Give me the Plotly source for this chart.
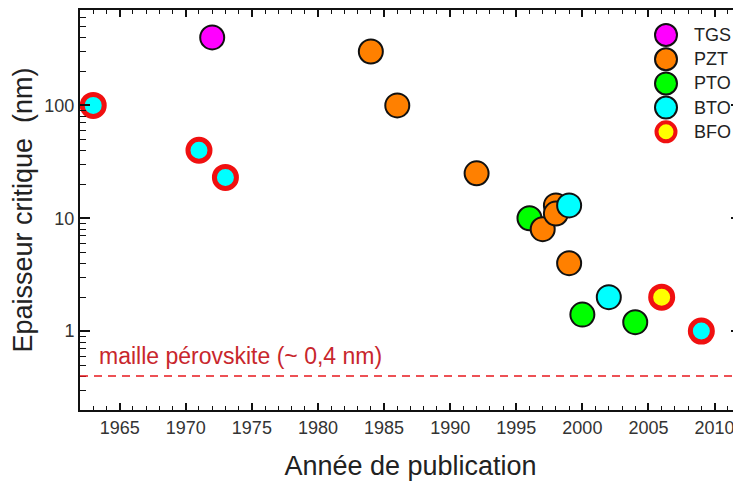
import plotly.graph_objects as go
import math

# ---- data ----
tgs_x = [1972]
tgs_y = [400]
pto_x = [1996, 2000, 2004]
pto_y = [10, 1.4, 1.2]
pzt_x = [1984, 1986, 1992, 1998, 1997, 1998, 1999]
pzt_y = [300, 100, 25, 13, 8, 11, 4]
bto_x = [1999, 2002]
bto_y = [13, 2]
bfo_x = [2006]
bfo_y = [2]
ring_x = [1963, 1971, 1973, 2009]
ring_y = [100, 40, 23, 1]

legend_names = ["TGS", "PZT", "PTO", "BTO", "BFO"]
legend_fill = ["#ff00ff", "#ff8000", "#00ff00", "#00ffff", "#ffff00"]
legend_line = ["#111111", "#111111", "#111111", "#111111", "#f01010"]
legend_lw = [2, 2, 2, 2, 4]

xticks = [1965, 1970, 1975, 1980, 1985, 1990, 1995, 2000, 2005, 2010]
yticks = [1, 10, 100]
yticktext = ["1", "10", "100"]
perov = 0.4

FONT = "Arial, Liberation Sans, sans-serif"

fig = go.Figure()

def add(x, y, fill, line, lw, size, name):
    fig.add_trace(go.Scatter(
        x=x, y=y, mode="markers", name=name, showlegend=False,
        marker=dict(size=size, color=fill, line=dict(color=line, width=lw)),
        hoverinfo="x+y"))

add(tgs_x, tgs_y, "#ff00ff", "#111111", 2, 24, "TGS")
add(pto_x, pto_y, "#00ff00", "#111111", 2, 24, "PTO")
add(pzt_x, pzt_y, "#ff8000", "#111111", 2, 24, "PZT")
add(bto_x, bto_y, "#00ffff", "#111111", 2, 24, "BTO")
add(bfo_x, bfo_y, "#ffff00", "#f01010", 5, 22, "BFO")
add(ring_x, ring_y, "#00ffff", "#f01010", 5, 22, "BTO/BFO")

# log-axis minor ticks
minor_vals = []
for dec in [0.1, 1, 10, 100]:
    for m in range(2, 10):
        v = m * dec
        if 0.2 <= v <= 700:
            minor_vals.append(v)

# the page body has an 8px margin: figure drawn from (8,8) to (741,482)
OFF = 8
W, H = 741 - OFF, 482 - OFF
ml, mr, mt, mb = 80 - OFF, 0, 10 - OFF, 72
pw, ph = W - ml - mr, H - mt - mb

fig.update_layout(
    width=W, height=H,
    margin=dict(l=ml, r=mr, t=mt, b=mb, autoexpand=False),
    paper_bgcolor="white", plot_bgcolor="white",
    font=dict(family=FONT, color="#222222"),
    showlegend=False,
    xaxis=dict(
        range=[1962, 2012], tickmode="array", tickvals=xticks,
        ticks="inside", ticklen=7, tickwidth=1.5, tickcolor="#111111",
        showline=True, linewidth=2, linecolor="#111111", mirror="ticks",
        showgrid=False, zeroline=False,
        tickfont=dict(size=18, color="#333333", family=FONT),
        minor=dict(dtick=1, tick0=1962, ticks="inside", ticklen=4, tickwidth=1.2,
                   tickcolor="#111111", showgrid=False),
        title=dict(text="Année de publication", font=dict(size=27, family=FONT, color="#222222"),
                   standoff=20),
    ),
    yaxis=dict(
        type="log", range=[math.log10(0.2), math.log10(700)],
        tickmode="array", tickvals=yticks, ticktext=yticktext,
        ticks="inside", ticklen=10, tickwidth=1.5, tickcolor="#111111",
        showline=True, linewidth=2, linecolor="#111111",
        showgrid=False, zeroline=False,
        tickfont=dict(size=18, color="#333333", family=FONT),
        minor=dict(tickmode="array", tickvals=minor_vals, ticks="inside", ticklen=6,
                   tickwidth=1.2, tickcolor="#111111", showgrid=False),
        title=dict(text="Epaisseur critique  (nm)", font=dict(size=27, family=FONT, color="#222222"),
                   standoff=5),
    ),
    yaxis2=dict(
        type="log", range=[math.log10(0.2), math.log10(700)], overlaying="y", side="right",
        tickmode="array", tickvals=yticks, showticklabels=False,
        ticks="inside", ticklen=10, tickwidth=1.5, tickcolor="#111111",
        showline=False, showgrid=False, zeroline=False,
        minor=dict(tickmode="array", tickvals=minor_vals, ticks="inside", ticklen=6,
                   tickwidth=1.2, tickcolor="#111111", showgrid=False),
    ),
)
# invisible trace to activate yaxis2
fig.add_trace(go.Scatter(x=[None], y=[None], yaxis="y2", showlegend=False, hoverinfo="skip"))

# perovskite lattice line
fig.add_shape(type="line", xref="paper", x0=0, x1=1, yref="y", y0=perov, y1=perov,
              line=dict(color="#e8191e", width=1.6, dash="8px,6px"))
fig.add_annotation(xref="paper", x=(97 - 80) / pw, yref="y", y=math.log10(perov),
                   xanchor="left", yanchor="bottom", yshift=5, showarrow=False,
                   text="maille pérovskite (~ 0,4 nm)",
                   font=dict(size=23, color="#c8262c", family=FONT))

# legend (drawn manually to keep large symbols); pixel positions in page coords
leg_x_px = 666
leg_y0_px = 35
leg_dy = 24.2
for i, (nm, fc, lc, lw) in enumerate(zip(legend_names, legend_fill, legend_line, legend_lw)):
    py = leg_y0_px + i * leg_dy
    yp = (410 - py) / ph
    xp = (leg_x_px - 80) / pw
    r = 11 if lw == 2 else 9.5
    fig.add_shape(type="circle", xref="paper", yref="paper",
                  xsizemode="pixel", ysizemode="pixel", xanchor=xp, yanchor=yp,
                  x0=-r, x1=r, y0=-r, y1=r,
                  fillcolor=fc, line=dict(color=lc, width=lw))
    fig.add_annotation(xref="paper", yref="paper", x=(692 - 80) / pw, y=yp,
                       xanchor="left", yanchor="middle", showarrow=False, text=nm,
                       font=dict(size=18, color="#222222", family=FONT))

fig.write_html("out.html")
